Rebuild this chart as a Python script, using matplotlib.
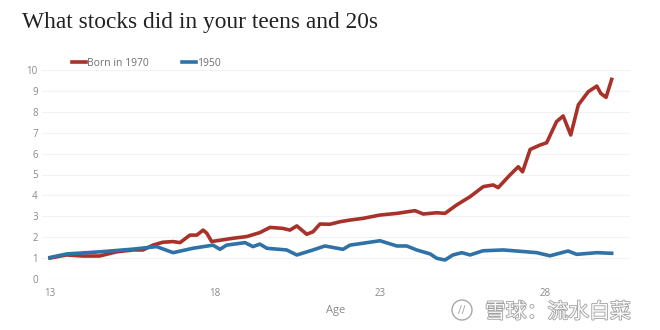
import matplotlib
matplotlib.use("Agg")
import matplotlib.pyplot as plt
import matplotlib.patheffects as pe
from matplotlib.patches import Ellipse

# ---- data ----
age_1970 = [13.0, 13.5, 14.0, 14.5, 15.02, 15.52, 15.82, 16.12, 16.42, 16.73, 16.94, 17.24,
            17.45, 17.64, 17.75, 17.9, 18.05, 18.55, 18.96, 19.36, 19.67, 20.06, 20.27, 20.48,
            20.78, 20.97, 21.18, 21.48, 21.79, 22.09, 22.48, 23.0, 23.51, 24.06, 24.31, 24.72,
            24.97, 25.32, 25.73, 26.13, 26.43, 26.58, 26.94, 27.19, 27.32, 27.55, 27.85, 28.05,
            28.35, 28.55, 28.78, 29.01, 29.31, 29.57, 29.69, 29.85, 30.02]
val_1970 = [1.0, 1.15, 1.1, 1.1, 1.3, 1.39, 1.39, 1.62, 1.76, 1.79, 1.74, 2.1,
            2.1, 2.34, 2.19, 1.79, 1.83, 1.95, 2.03, 2.22, 2.47, 2.42, 2.34, 2.54,
            2.14, 2.26, 2.63, 2.62, 2.74, 2.82, 2.9, 3.06, 3.14, 3.27, 3.11, 3.17,
            3.14, 3.54, 3.94, 4.42, 4.5, 4.37, 4.98, 5.37, 5.13, 6.2, 6.41, 6.52,
            7.53, 7.8, 6.89, 8.33, 8.96, 9.23, 8.88, 8.69, 9.55]

age_1950 = [13.0, 13.51, 14.52, 15.52, 16.23, 16.73, 17.33, 17.94, 18.15, 18.35, 18.91, 19.15,
            19.36, 19.57, 20.17, 20.48, 20.97, 21.33, 21.88, 22.09, 22.48, 23.0, 23.51, 23.81,
            24.11, 24.52, 24.72, 24.97, 25.21, 25.48, 25.73, 26.12, 26.73, 27.14, 27.75, 28.15,
            28.7, 28.96, 29.57, 30.02]
val_1950 = [1.03, 1.2, 1.3, 1.43, 1.55, 1.26, 1.47, 1.62, 1.42, 1.62, 1.74, 1.55,
            1.67, 1.47, 1.39, 1.15, 1.39, 1.58, 1.42, 1.62, 1.71, 1.83, 1.58, 1.58,
            1.39, 1.2, 0.99, 0.91, 1.15, 1.26, 1.15, 1.35, 1.39, 1.34, 1.26, 1.11,
            1.34, 1.18, 1.26, 1.23]

x_ticks = [13, 18, 23, 28]
y_ticks = list(range(0, 11))
title = "What stocks did in your teens and 20s"
label_1970 = "Born in 1970"
label_1950 = "1950"
x_label = "Age"
watermark = "雪球：流水白菜"

RED = "#a8322a"
BLUE = "#2f72a8"
GRAY = "#8a8a8a"

W, H = 660, 330
fig = plt.figure(figsize=(6.6, 3.3), dpi=100)
fig.patch.set_facecolor("white")

# axes in pixel coords: x 42..630, y 70..279 (from top)
left, right, top, bottom = 42, 630, 70, 279
ax = fig.add_axes([left / W, 1 - bottom / H, (right - left) / W, (bottom - top) / H])
ax.set_xlim(13 - 8 / 33, 13 + (right - 50) / 33)
ax.set_ylim(0, 10)

ax.plot(age_1970, val_1970, color=RED, lw=2.6, solid_joinstyle="round", label=label_1970, zorder=3)
ax.plot(age_1950, val_1950, color=BLUE, lw=2.6, solid_joinstyle="round", label=label_1950, zorder=4)

for s in ax.spines.values():
    s.set_visible(False)
ax.set_yticks(y_ticks)
ax.set_xticks(x_ticks)
ax.grid(axis="y", color="#f2f2f2", lw=0.8)
ax.axhline(0, color="#e6e6e6", lw=0.8, zorder=1)
ax.tick_params(axis="both", length=0, labelsize=7, labelcolor=GRAY)
ax.tick_params(axis="y", pad=3)
ax.tick_params(axis="x", pad=6.5)
for t in ax.get_xticklabels() + ax.get_yticklabels():
    t.set_fontfamily("Open Sans")
ax.set_xlabel(x_label, fontsize=8, color=GRAY, fontfamily="Open Sans", labelpad=4)

leg = fig.legend(loc="center left", bbox_to_anchor=(72 / W, 1 - 63 / H), ncol=2,
                 frameon=False, handlelength=1.35, handletextpad=0.1, columnspacing=3.2,
                 prop={"family": "Open Sans", "size": 7.5}, borderaxespad=0, borderpad=0)
for t in leg.get_texts():
    t.set_color("#707070")

fig.text(22 / W, 1 - 28 / H, title, fontsize=16.8, fontfamily="Liberation Serif",
         color="#222222", va="baseline", ha="left")

# watermark
wm = fig.text(485 / W, 1 - 312 / H, watermark, fontsize=15,
              fontfamily=["Noto Sans CJK SC", "DejaVu Sans"], color="#fafafa",
              va="center", ha="left")
wm.set_path_effects([pe.withStroke(linewidth=1.2, foreground="#a0a0a0")])
fig.patches.append(Ellipse((462 / W, 1 - 310 / H), 20 / W, 20 / H, transform=fig.transFigure,
                           fill=False, ec="#a8a8a8", lw=1.0))
fig.text(462 / W, 1 - 310 / H, "//", fontsize=8, color="#a8a8a8", ha="center", va="center")

fig.savefig("out.png", dpi=100, facecolor="white")
